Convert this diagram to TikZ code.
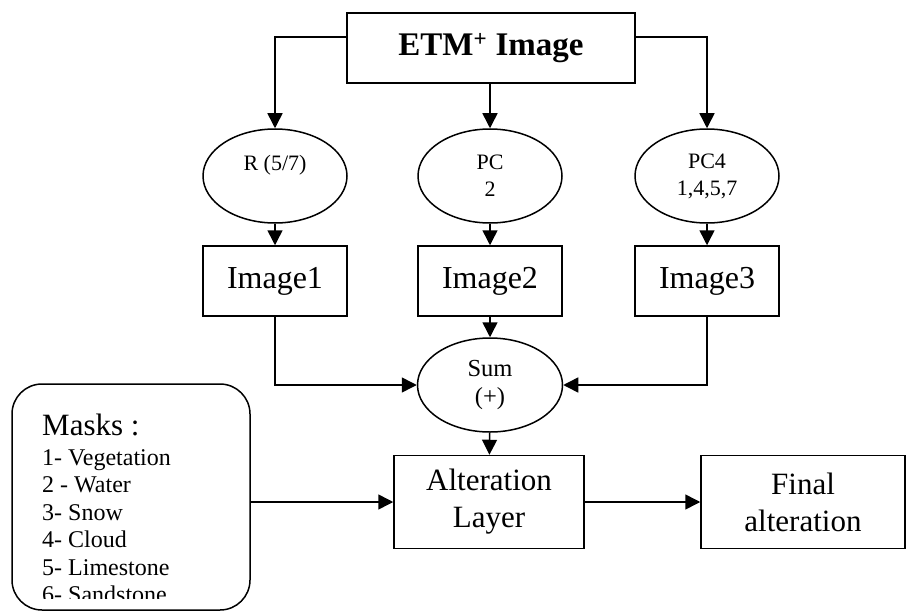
\documentclass[tikz,border=0pt]{standalone}
\usepackage{fontspec}
\setmainfont{Liberation Serif}
\usetikzlibrary{shapes.geometric,arrows.meta}

\tikzset{
  box/.style={draw, line width=1.5pt, minimum width=144pt, minimum height=70pt, inner sep=0pt, align=center},
  oval/.style={draw, ellipse, line width=1.5pt, minimum width=144pt, minimum height=94pt, inner sep=0pt, align=center,
    font=\fontsize{22}{27}\selectfont},
  arr/.style={line width=1.5pt, -{Triangle[length=15pt,width=15pt]}},
}

\begin{document}
\begin{tikzpicture}[x=1pt,y=-1pt]
\useasboundingbox (0,0) rectangle (912,615);
% top source
\node[box, minimum width=288pt, font=\bfseries\fontsize{33}{40}\selectfont] (etm) at (491,48) {ETM\textsuperscript{+}\ Image};
% three transforms
\node[oval] (r57) at (275,176) {R (5/7)\\\mbox{}};
\node[oval] (pc2) at (490,176) {PC\\2};
\node[oval] (pc4) at (707,176) {PC4\\1,4,5,7};
\foreach \n/\x in {1/275,2/490,3/707}
  \node[box, font=\fontsize{32}{37}\selectfont] (img\n) at (\x,281) {Image\n};
\node[oval, minimum width=145pt, font=\fontsize{24.5}{28}\selectfont] (sum) at (490,385) {Sum\\(+)};
\node[box, minimum width=190pt, minimum height=93pt, font=\fontsize{31}{37}\selectfont] (alter) at (489,502) {Alteration\\Layer};
\node[box, minimum width=204pt, minimum height=93pt, font=\fontsize{31}{37}\selectfont] (final) at (803,502) {Final\\alteration};
% masks
\node[draw, line width=1.5pt, rounded corners=30pt, minimum width=238pt, minimum height=226pt] (masks) at (131,497) {};
\begin{scope}
\clip (12,384) rectangle (250,598);
\node[anchor=base west, inner sep=0pt, font=\fontsize{31}{36}\selectfont] (mtitle) at (42,435) {Masks :};
\foreach \i/\t in {1/1- Vegetation,2/2 - Water,3/3- Snow,4/4- Cloud,5/5- Limestone,6/6- Sandstone}
  \node[anchor=base west, inner sep=0pt, font=\fontsize{24}{27}\selectfont] (mask\i) at (42,437.5+27.5*\i) {\t};
\end{scope}
% connectors
\draw[arr] ([yshift=11pt]etm.west) -| (r57.north);
\draw[arr] (etm.south -| pc2.north) -- (pc2.north);
\draw[arr] ([yshift=11pt]etm.east) -| (pc4.north);
\draw[arr] (r57) -- (img1);
\draw[arr] (pc2) -- (img2);
\draw[arr] (pc4) -- (img3);
\draw[arr] (img1.south) |- (sum.west);
\draw[arr] (img2) -- (sum);
\draw[arr] (img3.south) |- (sum.east);
\draw[arr] (sum) -- (alter);
\draw[arr] (masks.east |- alter.west) -- (alter.west);
\draw[arr] (alter) -- (final);
\end{tikzpicture}
\end{document}
